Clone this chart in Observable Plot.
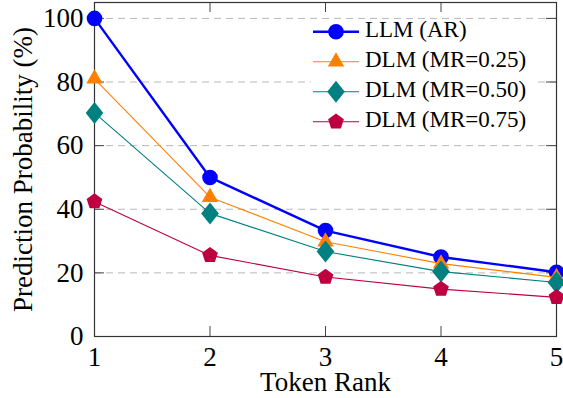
<!DOCTYPE html>
<html>
<head>
<meta charset="utf-8">
<script src="https://cdn.jsdelivr.net/npm/d3@7"></script>
<script src="https://cdn.jsdelivr.net/npm/@observablehq/plot@0.6"></script>
<style>
  html, body { margin: 0; padding: 0; background: white; }
  #wrap { position: relative; width: 563px; height: 398px; }
  #legend { position: absolute; left: 0; top: 0; pointer-events: none; }
</style>
</head>
<body>
<div id="wrap"></div>
<script>
// ---- data ----
const ranks = [1, 2, 3, 4, 5];
const seriesNames = ["LLM (AR)", "DLM (MR=0.25)", "DLM (MR=0.50)", "DLM (MR=0.75)"];
const llmAR = [100, 50, 33.3, 25, 20.2];
const dlm025 = [81, 43.8, 29.8, 22.9, 18.6];
const dlm050 = [70.3, 38.7, 26.7, 20.4, 17];
const dlm075 = [42.4, 25.5, 18.7, 14.9, 12.3];
const yTicks = [0, 20, 40, 60, 80, 100];
const gridTicks = [20, 40, 60, 80, 100];
const innerXTicks = [2, 3, 4];
const colors = ["#0000ff", "#ff8000", "#008080", "#bf0040"];

const seriesValues = [llmAR, dlm025, dlm050, dlm075];
const rows = seriesNames.map((name, i) => ranks.map((r, j) => ({series: name, rank: r, value: seriesValues[i][j]})));

// ---- custom symbols (pgfplots-like) ----
const rOf = size => Math.sqrt(size / Math.PI);
const triangleSym = {draw(ctx, size) {
  const R = rOf(size) * 1.22;
  ctx.moveTo(0, -R);
  ctx.lineTo(R * Math.sin(Math.PI / 3), R / 2);
  ctx.lineTo(-R * Math.sin(Math.PI / 3), R / 2);
  ctx.closePath();
}};
const diamondSym = {draw(ctx, size) {
  const r = rOf(size), hw = r * 1.13, hh = r * 1.41;
  ctx.moveTo(0, -hh); ctx.lineTo(hw, 0); ctx.lineTo(0, hh); ctx.lineTo(-hw, 0); ctx.closePath();
}};
const pentagonSym = {draw(ctx, size) {
  const R = rOf(size) * 1.06;
  for (let k = 0; k < 5; k++) {
    const a = -Math.PI / 2 + k * 2 * Math.PI / 5;
    const px = R * Math.cos(a), py = R * Math.sin(a);
    if (k === 0) ctx.moveTo(px, py); else ctx.lineTo(px, py);
  }
  ctx.closePath();
}};
const symbols = [d3.symbolCircle, triangleSym, diamondSym, pentagonSym];
const lineWidths = [2.4, 1.1, 1.1, 1.1];
const dotR = 7.8;

const FONT = "'Liberation Serif', 'Times New Roman', Times, serif";
const W = 563, H = 398;
const mL = 94, mR = 7, mT = 2, mB = 62;
const innerW = W - mL - mR, innerH = H - mT - mB;
const tickLen = 10;

const seriesMarks = [];
rows.forEach((data, i) => {
  seriesMarks.push(Plot.line(data, {x: "rank", y: "value", stroke: colors[i], strokeWidth: lineWidths[i]}));
  seriesMarks.push(Plot.dot(data, {x: "rank", y: "value", fill: colors[i], stroke: "none", r: dotR, symbol: symbols[i]}));
});

const chart = Plot.plot({
  width: W, height: H,
  marginLeft: mL, marginRight: mR, marginTop: mT, marginBottom: mB,
  style: {fontFamily: FONT, fontSize: "27px", color: "black", background: "white"},
  x: {domain: [1, 5], label: null},
  y: {domain: [0, 105], label: null},
  marks: [
    Plot.gridY(gridTicks, {stroke: "#b8b8b8", strokeOpacity: 1, strokeDasharray: "7,5", strokeWidth: 1}),
    Plot.tickX(innerXTicks, {x: d => d, insetTop: innerH - tickLen, stroke: "#444"}),
    Plot.tickX(innerXTicks, {x: d => d, insetBottom: innerH - tickLen, stroke: "#444"}),
    Plot.tickY(gridTicks, {y: d => d, insetLeft: innerW - tickLen, stroke: "#444"}),
    Plot.tickY(gridTicks, {y: d => d, insetRight: innerW - tickLen, stroke: "#444"}),
    Plot.frame({stroke: "#333", strokeWidth: 1.2}),
    ...seriesMarks,
    Plot.axisX({ticks: ranks, tickSize: 0, tickPadding: 10, fontSize: 27, label: null, tickFormat: d => String(d)}),
    Plot.axisY({ticks: yTicks, tickSize: 0, tickPadding: 11, fontSize: 27, label: null, tickFormat: d => String(d)}),
    Plot.text(["Token Rank"], {text: d => d, frameAnchor: "bottom", textAnchor: "middle", dy: 46, lineAnchor: "middle", fontSize: 27, fill: "black"}),
    Plot.text(["Prediction Probability (%)"], {text: d => d, frameAnchor: "left", textAnchor: "middle", dx: -71, rotate: -90, lineAnchor: "middle", fontSize: 27, fill: "black"})
  ]
});

const wrap = document.getElementById("wrap");
wrap.appendChild(chart);

// ---- legend overlay ----
const lg = d3.select(wrap).append("svg")
  .attr("id", "legend").attr("width", W).attr("height", H);
lg.append("rect").attr("x", 311).attr("y", 19).attr("width", 224).attr("height", 118).attr("fill", "white");
seriesNames.forEach((name, i) => {
  const cy = 31.7 + i * 30;
  const g = lg.append("g");
  g.append("line").attr("x1", 313).attr("x2", 359).attr("y1", cy).attr("y2", cy)
    .attr("stroke", colors[i]).attr("stroke-width", lineWidths[i]);
  g.append("path").attr("transform", `translate(336,${cy})`)
    .attr("d", d3.symbol(symbols[i], dotR * dotR * Math.PI)())
    .attr("fill", colors[i]);
  g.append("text").attr("x", 365).attr("y", cy + 5).attr("font-family", FONT)
    .attr("font-size", 23).attr("fill", "black").text(name);
});
</script>
</body>
</html>
